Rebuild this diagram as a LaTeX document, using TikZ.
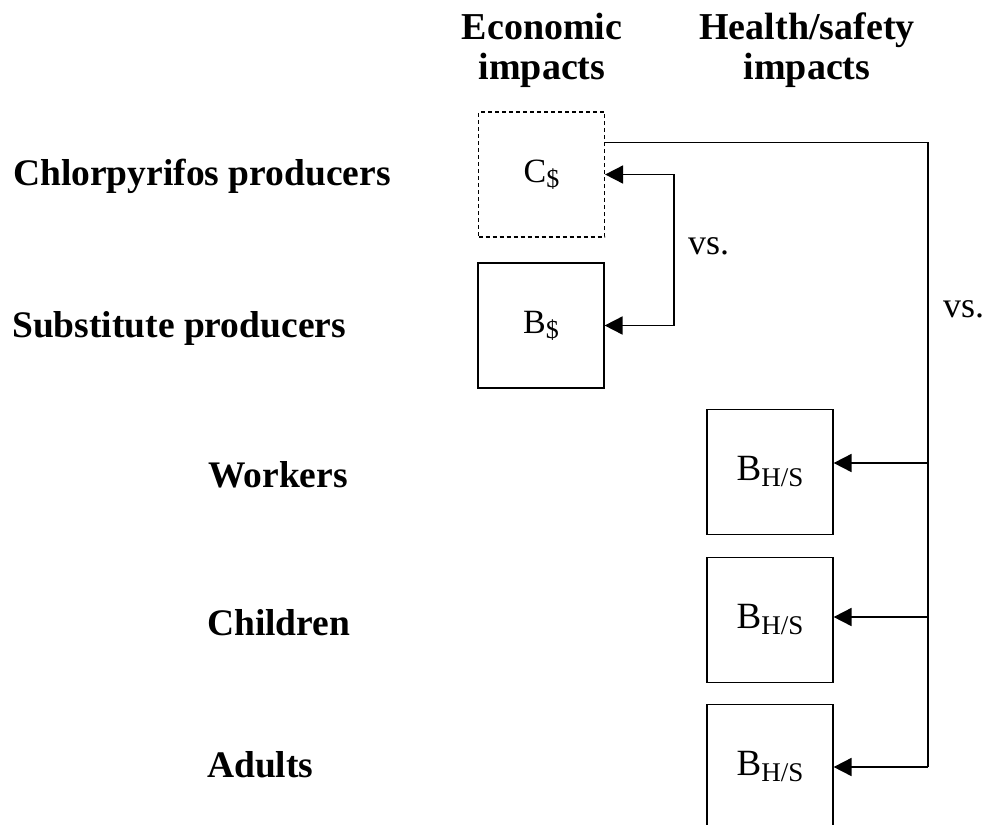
\documentclass[tikz,border=0pt]{standalone}
\usepackage{fontspec}
\setmainfont{Liberation Serif}
\usepackage{tikz}
\usetikzlibrary{arrows.meta,calc}
\newcommand{\ecsub}[1]{#1\raisebox{-5pt}{\fontsize{26}{26}\selectfont\$}}
\newcommand{\hssub}{B\raisebox{-6pt}{\fontsize{27}{27}\selectfont H/S}}

\begin{document}
\begin{tikzpicture}[x=1pt, y=-1pt,
  box/.style={draw, line width=1.2pt, minimum width=126pt,
              minimum height=125pt, inner sep=0pt},
  ec/.style={box, font=\fontsize{34}{40}\selectfont},
  ecdash/.style={ec, dash pattern=on 4pt off 3pt},
  hs/.style={box, font=\fontsize{37}{44}\selectfont},
  lbl/.style={font=\fontsize{37.5}{44}\selectfont\bfseries, anchor=base west, inner sep=0pt},
  hd/.style={font=\fontsize{38}{40}\selectfont\bfseries, align=center, anchor=north, inner sep=0pt},
  vs/.style={font=\fontsize{36}{40}\selectfont, anchor=base west, inner sep=0pt},
  arr/.style={-{Triangle[length=18pt,width=18pt]}, line width=1.8pt},
  dbl/.style={{Triangle[length=18pt,width=18pt]}-{Triangle[length=18pt,width=18pt]}, line width=1.8pt},
]
\clip (0,0) rectangle (986,825);

% --- column heads ---
\node[hd] (hdec) at (542,13) {Economic\\impacts};
\node[hd] (hdhs) at (807,13) {Health/safety\\impacts};

% --- row labels ---
\node[lbl] (chl) at (13,185)  {Chlorpyrifos producers};
\node[lbl] (sub) at (12,337)  {Substitute producers};
\node[lbl] (wrk) at (208,487) {Workers};
\node[lbl] (chd) at (207,635) {Children};
\node[lbl] (adl) at (207,777) {Adults};

% --- boxes ---
\node[ecdash] (cs) at (541.5,174.5) {\ecsub{C}};
\node[ec] (bs) at (541,325.5) {\ecsub{B}};
\node[hs] (hs1) at (770,472) {\hssub};
\node[hs] (hs2) at (770,620) {\hssub};
\node[hs] (hs3) at (770,767) {\hssub};

% --- connectors ---
\coordinate (k1) at (674,250);
\coordinate (k2) at (928,143);
\draw[dbl] (cs.east) -- (cs.east -| k1) -- (bs.east -| k1) -- (bs.east);
\foreach \b/\dy in {hs1/-9,hs2/-3,hs3/0}
  \coordinate (t\b) at ($(\b.east)+(0,\dy)$);
\draw[line width=1.8pt] ($(cs.north east)+(0,31)$) -| (k2 |- ths3);
\foreach \b in {hs1,hs2,hs3} \draw[arr] (k2 |- t\b) -- (t\b);

\node[vs] (vs1) at (688,254) {vs.};
\node[vs] (vs2) at (943,317) {vs.};
\end{tikzpicture}
\end{document}
